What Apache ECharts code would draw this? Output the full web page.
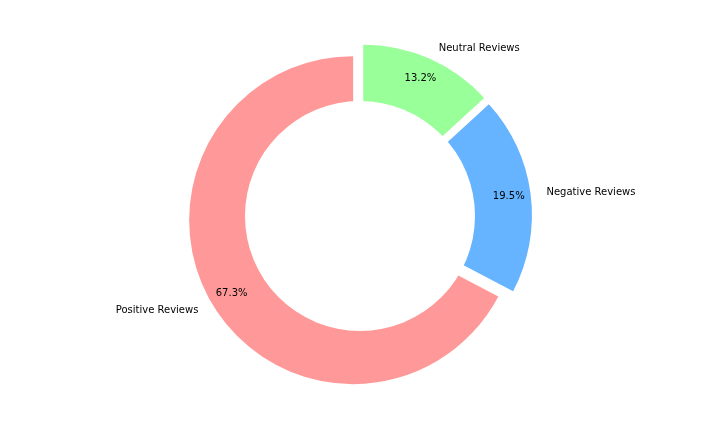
<!DOCTYPE html>
<html>
<head>
<meta charset="utf-8">
<script src="https://cdn.jsdelivr.net/npm/echarts@6/dist/echarts.min.js"></script>
<style>
  html, body { margin: 0; padding: 0; background: #fff; }
  #chart { width: 720px; height: 432px; }
</style>
</head>
<body>
<div id="chart"></div>
<script>
// review share, percent
var categories = ['Positive Reviews', 'Negative Reviews', 'Neutral Reviews'];
var shares = [67.3, 19.5, 13.2];
var colors = ['#ff9999', '#66b3ff', '#99ff99'];

var chart = echarts.init(document.getElementById('chart'), null, { renderer: 'canvas' });

function pieData(transparent) {
  return categories.map(function (name, i) {
    return {
      name: name,
      value: shares[i],
      selected: true,
      itemStyle: { color: transparent ? 'rgba(0,0,0,0)' : colors[i] }
    };
  });
}

var common = {
  type: 'pie',
  center: [360, 216],
  startAngle: 90,
  clockwise: false,
  selectedMode: 'multiple',
  selectedOffset: 8,
  avoidLabelOverlap: false,
  silent: true,
  animation: false,
  emphasis: { disabled: true }
};

var txt = { color: '#000', fontSize: 10, fontFamily: 'DejaVu Sans' };

var option = {
  backgroundColor: '#ffffff',
  textStyle: { fontFamily: 'DejaVu Sans' },
  series: [
    // exploded wedges
    Object.assign({}, common, {
      radius: [100, 164],
      z: 2,
      label: { show: false },
      labelLine: { show: false },
      data: pieData(false)
    }),
    // white centre circle (not exploded)
    {
      type: 'pie',
      center: [360, 216],
      radius: [0, 115],
      z: 3,
      silent: true,
      animation: false,
      emphasis: { disabled: true },
      label: { show: false },
      labelLine: { show: false },
      data: [{ value: 1, itemStyle: { color: '#ffffff' } }]
    },
    // percentages
    Object.assign({}, common, {
      radius: [114, 164],
      z: 4,
      percentPrecision: 1,
      label: Object.assign({ show: true, position: 'inside', formatter: '{d}%' }, txt),
      labelLine: { show: false },
      data: pieData(true)
    }),
    // category names outside
    Object.assign({}, common, {
      radius: [114, 164],
      z: 4,
      label: Object.assign({ show: true, position: 'outside', formatter: '{b}' }, txt),
      labelLine: { show: false, length: 11, length2: 0 },
      data: pieData(true)
    })
  ]
};

chart.setOption(option);
</script>
</body>
</html>
